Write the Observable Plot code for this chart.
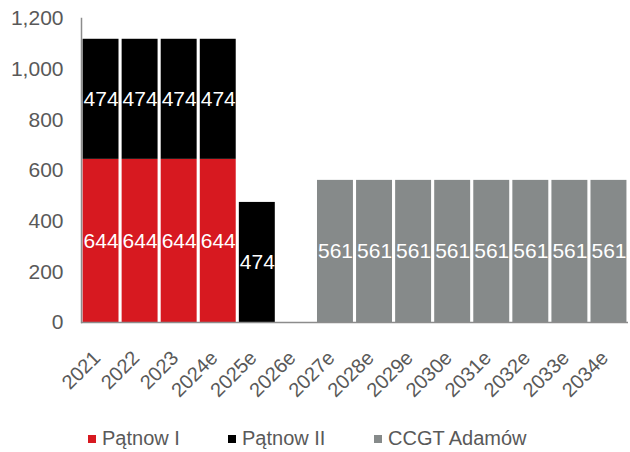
<!DOCTYPE html>
<html>
<head>
<meta charset="utf-8">
<script src="https://cdn.jsdelivr.net/npm/d3@7"></script>
<script src="https://cdn.jsdelivr.net/npm/@observablehq/plot@0.6"></script>
<style>
  body { margin: 0; background: #fff; font-family: "Liberation Sans", Arial, sans-serif; }
  #chart svg { display: block; }
  .legend { display: flex; margin-left: 88px; margin-top: 11px; font-size: 20px; color: #595959; }
  .legend span.item { display: inline-flex; align-items: center; }
  .legend span.sw { display: inline-block; width: 8px; height: 8px; margin-right: 6px; }
</style>
</head>
<body>
<div id="chart"></div>
<div class="legend" id="legend"></div>
<script>
const years = ["2021", "2022", "2023", "2024e", "2025e", "2026e", "2027e", "2028e", "2029e", "2030e", "2031e", "2032e", "2033e", "2034e"];
const seriesNames = ["Pątnow I", "Pątnow II", "CCGT Adamów"];
const seriesColors = ["#d71920", "#000000", "#868a8a"];
const patnowI   = [644, 644, 644, 644, 0, 0, 0, 0, 0, 0, 0, 0, 0, 0];
const patnowII  = [474, 474, 474, 474, 474, 0, 0, 0, 0, 0, 0, 0, 0, 0];
const adamow    = [0, 0, 0, 0, 0, 0, 561, 561, 561, 561, 561, 561, 561, 561];
const yTicks = [0, 200, 400, 600, 800, 1000, 1200];

const seriesValues = [patnowI, patnowII, adamow];
const rows = [];
years.forEach((year, i) => {
  seriesNames.forEach((name, s) => {
    const v = seriesValues[s][i];
    if (v > 0) rows.push({year, series: name, value: v, order: s});
  });
});

const textGray = "#595959";
const fmt = d3.format(",");

const chart = Plot.plot({
  width: 630,
  height: 416,
  marginLeft: 81,
  marginRight: 2,
  marginTop: 18,
  marginBottom: 94,
  style: {fontFamily: "'Liberation Sans', Arial, sans-serif", color: textGray, background: "#fff"},
  x: {domain: years, paddingInner: 0.08, paddingOuter: 0.04, round: false, label: null},
  y: {domain: [0, 1200], label: null},
  color: {domain: seriesNames, range: seriesColors},
  marks: [
    Plot.barY(rows, Plot.stackY({x: "year", y: "value", fill: "series", order: "order"})),
    Plot.text(rows, Plot.stackY({x: "year", y: "value", z: "series", order: "order", text: d => String(d.value), fill: "white", fontSize: 21})),
    Plot.axisY({ticks: yTicks, tickSize: 0, tickPadding: 18, tickFormat: fmt, fontSize: 21, fill: textGray, label: null}),
    Plot.axisX({tickSize: 0, tickRotate: -45, tickPadding: 32, dx: -4, fontSize: 20, fill: textGray, label: null}),
    Plot.ruleY([0], {stroke: "#8c8c8c", strokeWidth: 1.5}),
    Plot.frame({anchor: "left", stroke: "#8c8c8c", strokeWidth: 1.5})
  ]
});
document.getElementById("chart").appendChild(chart);

const legend = document.getElementById("legend");
seriesNames.forEach((name, s) => {
  const item = document.createElement("span");
  item.className = "item";
  item.style.width = [140, 146, 200][s] + "px";
  const sw = document.createElement("span");
  sw.className = "sw";
  sw.style.background = seriesColors[s];
  item.appendChild(sw);
  item.appendChild(document.createTextNode(name));
  legend.appendChild(item);
});
</script>
</body>
</html>
